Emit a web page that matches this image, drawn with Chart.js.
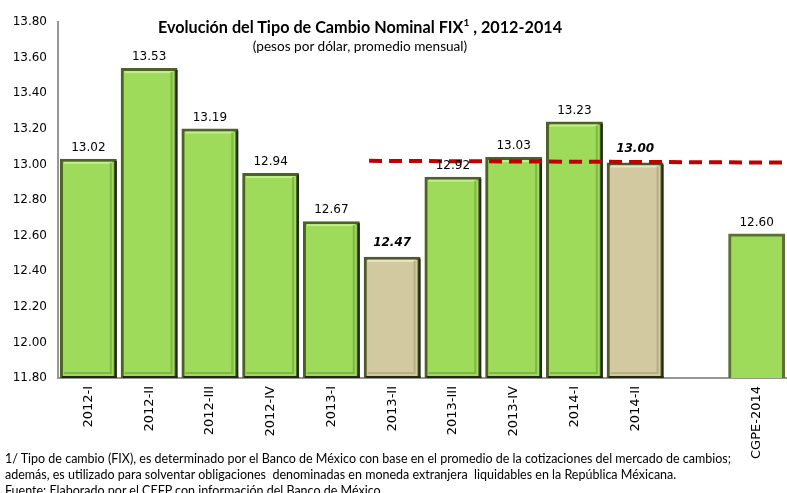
<!DOCTYPE html>
<html>
<head>
<meta charset="utf-8">
<script src="https://cdn.jsdelivr.net/npm/chart.js@4.4.1/dist/chart.umd.min.js"></script>
<style>
  html, body { margin: 0; padding: 0; background: #fff; }
  #wrap { position: relative; width: 787px; height: 493px; overflow: hidden; }
  #c { position: absolute; left: 0; top: 0; }
  .title { position: absolute; left: 0; width: 720px; text-align: center; font-family: Lato, "Open Sans", sans-serif; color: #000; }
  #t1 { top: 17px; font-size: 16.2px; font-weight: bold; }
  #t1 sup { font-size: 10px; position: relative; top: -1px; vertical-align: top; }
  #t2 { top: 38px; font-size: 13.6px; }
  .foot { position: absolute; left: 5px; font-family: Lato, "Open Sans", sans-serif; font-size: 12.5px; color: #000; white-space: nowrap; }
</style>
</head>
<body>
<div id="wrap">
  <canvas id="c" width="787" height="493"></canvas>
  <div class="title" id="t1">Evolución del Tipo de Cambio Nominal FIX<sup>1</sup> , 2012-2014</div>
  <div class="title" id="t2">(pesos por dólar, promedio mensual)</div>
  <div class="foot" style="top:451px">1/ Tipo de cambio (FIX), es determinado por el Banco de México con base en el promedio de la cotizaciones del mercado de cambios;</div>
  <div class="foot" style="top:467px">además, es utilizado para solventar obligaciones&nbsp; denominadas en moneda extranjera&nbsp; liquidables en la República Méxicana.</div>
  <div class="foot" style="top:483px">Fuente: Elaborado por el CEFP con información del Banco de México.</div>
</div>
<script>
const categories = ["2012-I","2012-II","2012-III","2012-IV","2013-I","2013-II","2013-III","2013-IV","2014-I","2014-II","","CGPE-2014"];
const fixValues = [13.02, 13.53, 13.19, 12.94, 12.67, 12.47, 12.92, 13.03, 13.23, 13.00, null, 12.60];
const barKinds = ["obs","obs","obs","obs","obs","partial","obs","obs","obs","partial","none","cgpe"];
const refLineX = [4.62, 11.5];
const refLineY = [13.02, 13.01];
const yTicks = [11.8, 13.8, 0.2];

const fillFor = k => k === "partial" ? "#d3c9a1" : "#9edb5b";
const borderFor = k => k === "cgpe" ? "#5c7032" : (k === "partial" ? "#4f5a2c" : "#4f6128");
const INFLATE = 2;

const bevelPlugin = {
  id: "bevel",
  afterDatasetDraw(chart, args) {
    if (args.index !== 0) return;
    const ctx = chart.ctx;
    const meta = chart.getDatasetMeta(0);
    const area = chart.chartArea;
    meta.data.forEach((bar, i) => {
      const k = barKinds[i];
      if (fixValues[i] == null || k === "cgpe") return;
      const p = bar.getProps(["x","y","base","width"], true);
      const l = p.x - p.width / 2 - INFLATE, r = p.x + p.width / 2 + INFLATE, t = p.y - INFLATE, b = Math.min(p.base, area.bottom);
      ctx.save();
      ctx.fillStyle = "#1f2a0f";
      ctx.fillRect(r - 2, t + 2, 2, b - t - 2);
      ctx.fillRect(l + 2, b - 2, r - l - 2, 2);
      ctx.fillStyle = k === "partial" ? "#ece6c8" : "#c2ee8e";
      ctx.fillRect(l + 4, t + 3, r - l - 9, 2);
      ctx.fillStyle = k === "partial" ? "#b9ae86" : "#7fb845";
      ctx.fillRect(l + 4, b - 6, r - l - 9, 2);
      ctx.fillRect(r - 7, t + 4, 2, b - t - 9);
      ctx.restore();
    });
  }
};

const labelPlugin = {
  id: "vlabels",
  afterDatasetsDraw(chart) {
    const ctx = chart.ctx;
    const meta = chart.getDatasetMeta(0);
    meta.data.forEach((bar, i) => {
      const v = fixValues[i];
      if (v == null) return;
      const k = barKinds[i];
      ctx.save();
      ctx.fillStyle = "#000";
      ctx.textAlign = "center";
      ctx.textBaseline = "bottom";
      ctx.font = (k === "partial" ? "italic bold " : "") + "12px 'DejaVu Sans'";
      ctx.fillText(v.toFixed(2), bar.x, bar.y - (k === "partial" ? 10 : 7));
      ctx.restore();
    });
  }
};

new Chart(document.getElementById("c"), {
  type: "bar",
  data: {
    labels: categories,
    datasets: [
      {
        data: fixValues,
        backgroundColor: barKinds.map(fillFor),
        borderColor: barKinds.map(borderFor),
        borderWidth: 3,
        borderSkipped: false,
        inflateAmount: INFLATE,
        grouped: false,
        categoryPercentage: 1,
        barPercentage: 0.87,
        order: 2
      },
      {
        type: "line",
        xAxisID: "x2",
        data: refLineX.map((x, i) => ({ x: x, y: refLineY[i] })),
        borderColor: "#c00000",
        borderWidth: 4,
        borderDash: [13, 7],
        pointRadius: 0,
        fill: false,
        clip: false,
        order: 1
      }
    ]
  },
  options: {
    responsive: false,
    animation: false,
    events: [],
    layout: { padding: { top: 22, left: 0, right: 0, bottom: 0 } },
    plugins: { legend: { display: false }, tooltip: { enabled: false }, title: { display: false } },
    scales: {
      x: {
        type: "category",
        grid: { display: false, drawTicks: false },
        border: { display: true, color: "#969696", width: 2 },
        ticks: {
          maxRotation: 90, minRotation: 90, padding: 8, autoSkip: false,
          color: "#000", font: { family: "'DejaVu Sans'", size: 13 }
        },
        afterFit(s) { s.height = 115; }
      },
      x2: {
        type: "linear", display: false, offset: false, bounds: "data", grace: 0,
        min: -0.5, max: 11.5
      },
      y: {
        min: yTicks[0], max: yTicks[1],
        grid: { display: false, drawTicks: false },
        border: { display: true, color: "#969696", width: 2 },
        ticks: {
          stepSize: yTicks[2], padding: 11, color: "#000",
          font: { family: "'DejaVu Sans'", size: 12 },
          callback: v => Number(v).toFixed(2)
        },
        afterFit(s) { s.width = 58; }
      }
    }
  },
  plugins: [bevelPlugin, labelPlugin]
});
</script>
</body>
</html>
